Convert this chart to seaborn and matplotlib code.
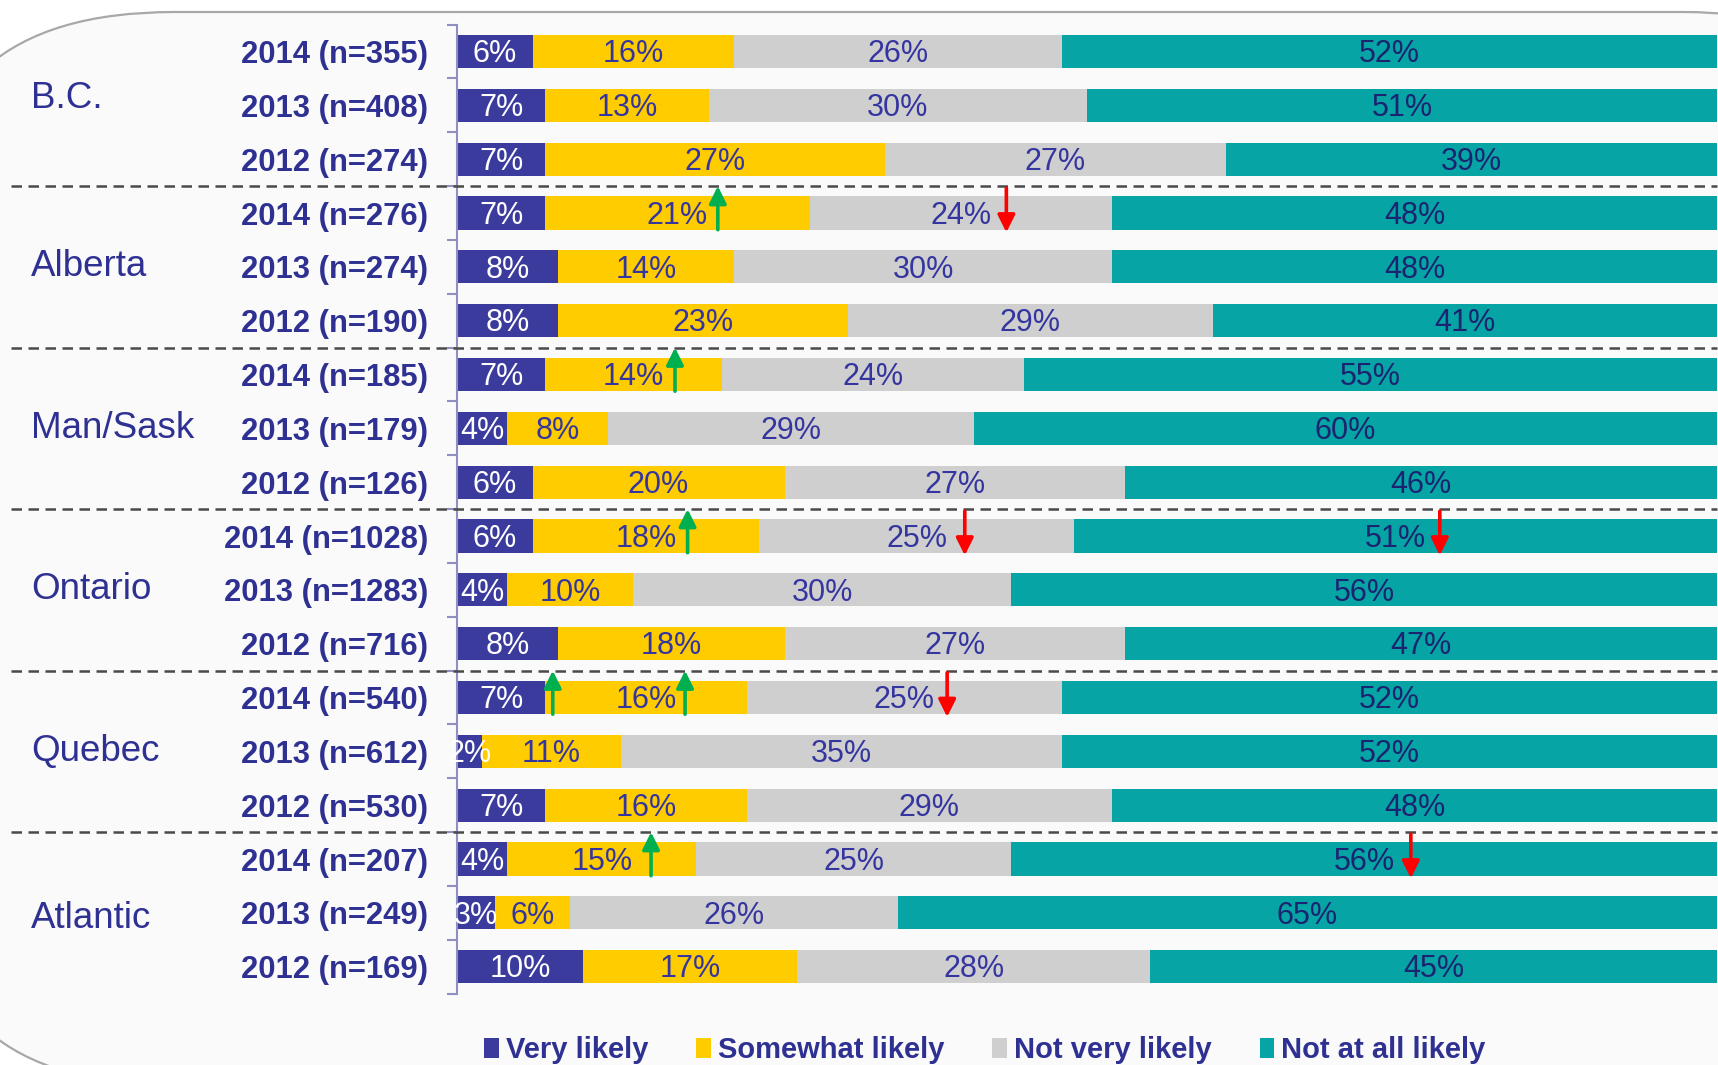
import numpy as np
import pandas as pd
import seaborn as sns
import matplotlib.pyplot as plt
from matplotlib.patches import FancyBboxPatch, Patch
from matplotlib.transforms import blended_transform_factory

regions = ['B.C.', 'Alberta', 'Man/Sask', 'Ontario', 'Quebec', 'Atlantic']
row_labels = ['2014 (n=355)', '2013 (n=408)', '2012 (n=274)',
              '2014 (n=276)', '2013 (n=274)', '2012 (n=190)',
              '2014 (n=185)', '2013 (n=179)', '2012 (n=126)',
              '2014 (n=1028)', '2013 (n=1283)', '2012 (n=716)',
              '2014 (n=540)', '2013 (n=612)', '2012 (n=530)',
              '2014 (n=207)', '2013 (n=249)', '2012 (n=169)']
very = [6, 7, 7, 7, 8, 8, 7, 4, 6, 6, 4, 8, 7, 2, 7, 4, 3, 10]
somewhat = [16, 13, 27, 21, 14, 23, 14, 8, 20, 18, 10, 18, 16, 11, 16, 15, 6, 17]
not_very = [26, 30, 27, 24, 30, 29, 24, 29, 27, 25, 30, 27, 25, 35, 29, 25, 26, 28]
not_at_all = [52, 51, 39, 48, 48, 41, 55, 60, 46, 51, 56, 47, 52, 52, 48, 56, 65, 45]
series = ['Very likely', 'Somewhat likely', 'Not very likely', 'Not at all likely']

# significance arrows (row index, position in %)
up_rows = [3, 6, 9, 12, 12, 15]
up_x = [20.7, 17.3, 18.3, 7.6, 18.1, 15.4]
down_rows = [3, 9, 9, 12, 15]
down_x = [43.6, 40.3, 78.0, 38.9, 75.7]

colors = ['#3B3B9E', '#FFCC00', '#CFCFCF', '#06A4A4']
txt_colors = ['white', '#3535A0', '#3535A0', '#1B2470']
navy = '#2E3192'

sns.set_style('white')
plt.rcParams['font.family'] = ['Liberation Sans', 'DejaVu Sans']

df = pd.DataFrame({'row': [f'{i}' for i in range(len(row_labels))],
                   'label': row_labels, 'Very likely': very,
                   'Somewhat likely': somewhat, 'Not very likely': not_very,
                   'Not at all likely': not_at_all})
cum = df[series].cumsum(axis=1)
# last segment fills the rest of the bar (rounding)
cum['Not at all likely'] = np.maximum(cum['Not at all likely'], 100)

fig = plt.figure(figsize=(17.18, 10.65), dpi=100)

# rounded background panel
bg = fig.add_axes([0, 0, 1, 1], zorder=0)
bg.set_xlim(0, 1718 / 250)
bg.set_ylim(1065 / 220, 0)
bg.axis('off')
bg.add_patch(FancyBboxPatch((-76 / 250, 12 / 220), (1933 + 76) / 250, (1085 - 12) / 220,
                            boxstyle='round,pad=0,rounding_size=1',
                            fc='#FAFAFA', ec='#A8A8A8', lw=1.6))

ax = fig.add_axes([457 / 1718, 1 - 993.6 / 1065, 1260 / 1718, 969 / 1065], zorder=1)
ax.patch.set_alpha(0)

order = df['row'].tolist()
for k in range(3, -1, -1):
    sns.barplot(x=cum[series[k]], y=df['row'], order=order, orient='h',
                color=colors[k], saturation=1, errorbar=None, width=0.615,
                linewidth=0, ax=ax)

ax.set_xlim(0, 100)
ax.set_ylim(17.5, -0.5)
ax.set_xlabel('')
ax.set_ylabel('')
ax.set_xticks([])
ax.set_yticks(range(len(row_labels)))
ax.set_yticklabels(row_labels, fontsize=22.3, fontweight='bold', color=navy)
ax.set_yticks(np.arange(-0.5, 18, 1), minor=True)
ax.tick_params(axis='y', which='major', left=False, length=0, pad=21)
ax.tick_params(axis='y', which='minor', left=True, length=7, width=1.5,
               color='#8F8FC0', direction='out')
for s in ['top', 'right', 'bottom']:
    ax.spines[s].set_visible(False)
ax.spines['left'].set_color('#8F8FC0')
ax.spines['left'].set_linewidth(1.5)

# value labels
for i in range(len(row_labels)):
    start = 0
    for k in range(4):
        end = cum.iloc[i, k]
        c = (start + min(end, 100)) / 2
        ax.text(c, i + 0.05, f'{df[series[k]].iloc[i]}%', ha='center', va='center',
                fontsize=22, color=txt_colors[k], zorder=5)
        start = end

# group separators and region labels
tr = blended_transform_factory(ax.transAxes, ax.transData)
for g in range(1, len(regions)):
    y = g * 3 - 0.5
    ax.plot([-0.354, 1], [y, y], transform=tr, clip_on=False, color='#4A4A4A',
            lw=1.8, ls=(0, (4.2, 2.6)), zorder=6)
trf = blended_transform_factory(fig.transFigure, ax.transData)
offs = [-0.12, 0, 0, 0, 0, 0.1]
for g, name in enumerate(regions):
    ax.text(31 / 1718, g * 3 + 1 + offs[g], name, transform=trf, ha='left', va='center',
            fontsize=26.5, color=navy)

# arrows
for r, x in zip(up_rows, up_x):
    ax.annotate('', xy=(x, r - 0.5), xytext=(x, r + 0.31),
                arrowprops=dict(arrowstyle='-|>', color='#00B050', lw=2.6,
                                mutation_scale=26, shrinkA=0, shrinkB=0), zorder=7)
for r, x in zip(down_rows, down_x):
    ax.annotate('', xy=(x, r + 0.36), xytext=(x, r - 0.46),
                arrowprops=dict(arrowstyle='-|>', color='#FF0000', lw=2.6,
                                mutation_scale=26, shrinkA=0, shrinkB=0), zorder=7)

handles = [Patch(facecolor=colors[k], edgecolor='none') for k in range(4)]
leg = fig.legend(handles, series, ncol=4, loc='center', bbox_to_anchor=(0.5733, 0.0141),
                 frameon=False, fontsize=21, handlelength=0.5, handleheight=0.7,
                 handletextpad=0.24, columnspacing=1.65)
for t in leg.get_texts():
    t.set_color(navy)
    t.set_fontweight('bold')

fig.savefig('out.png', dpi=100)
